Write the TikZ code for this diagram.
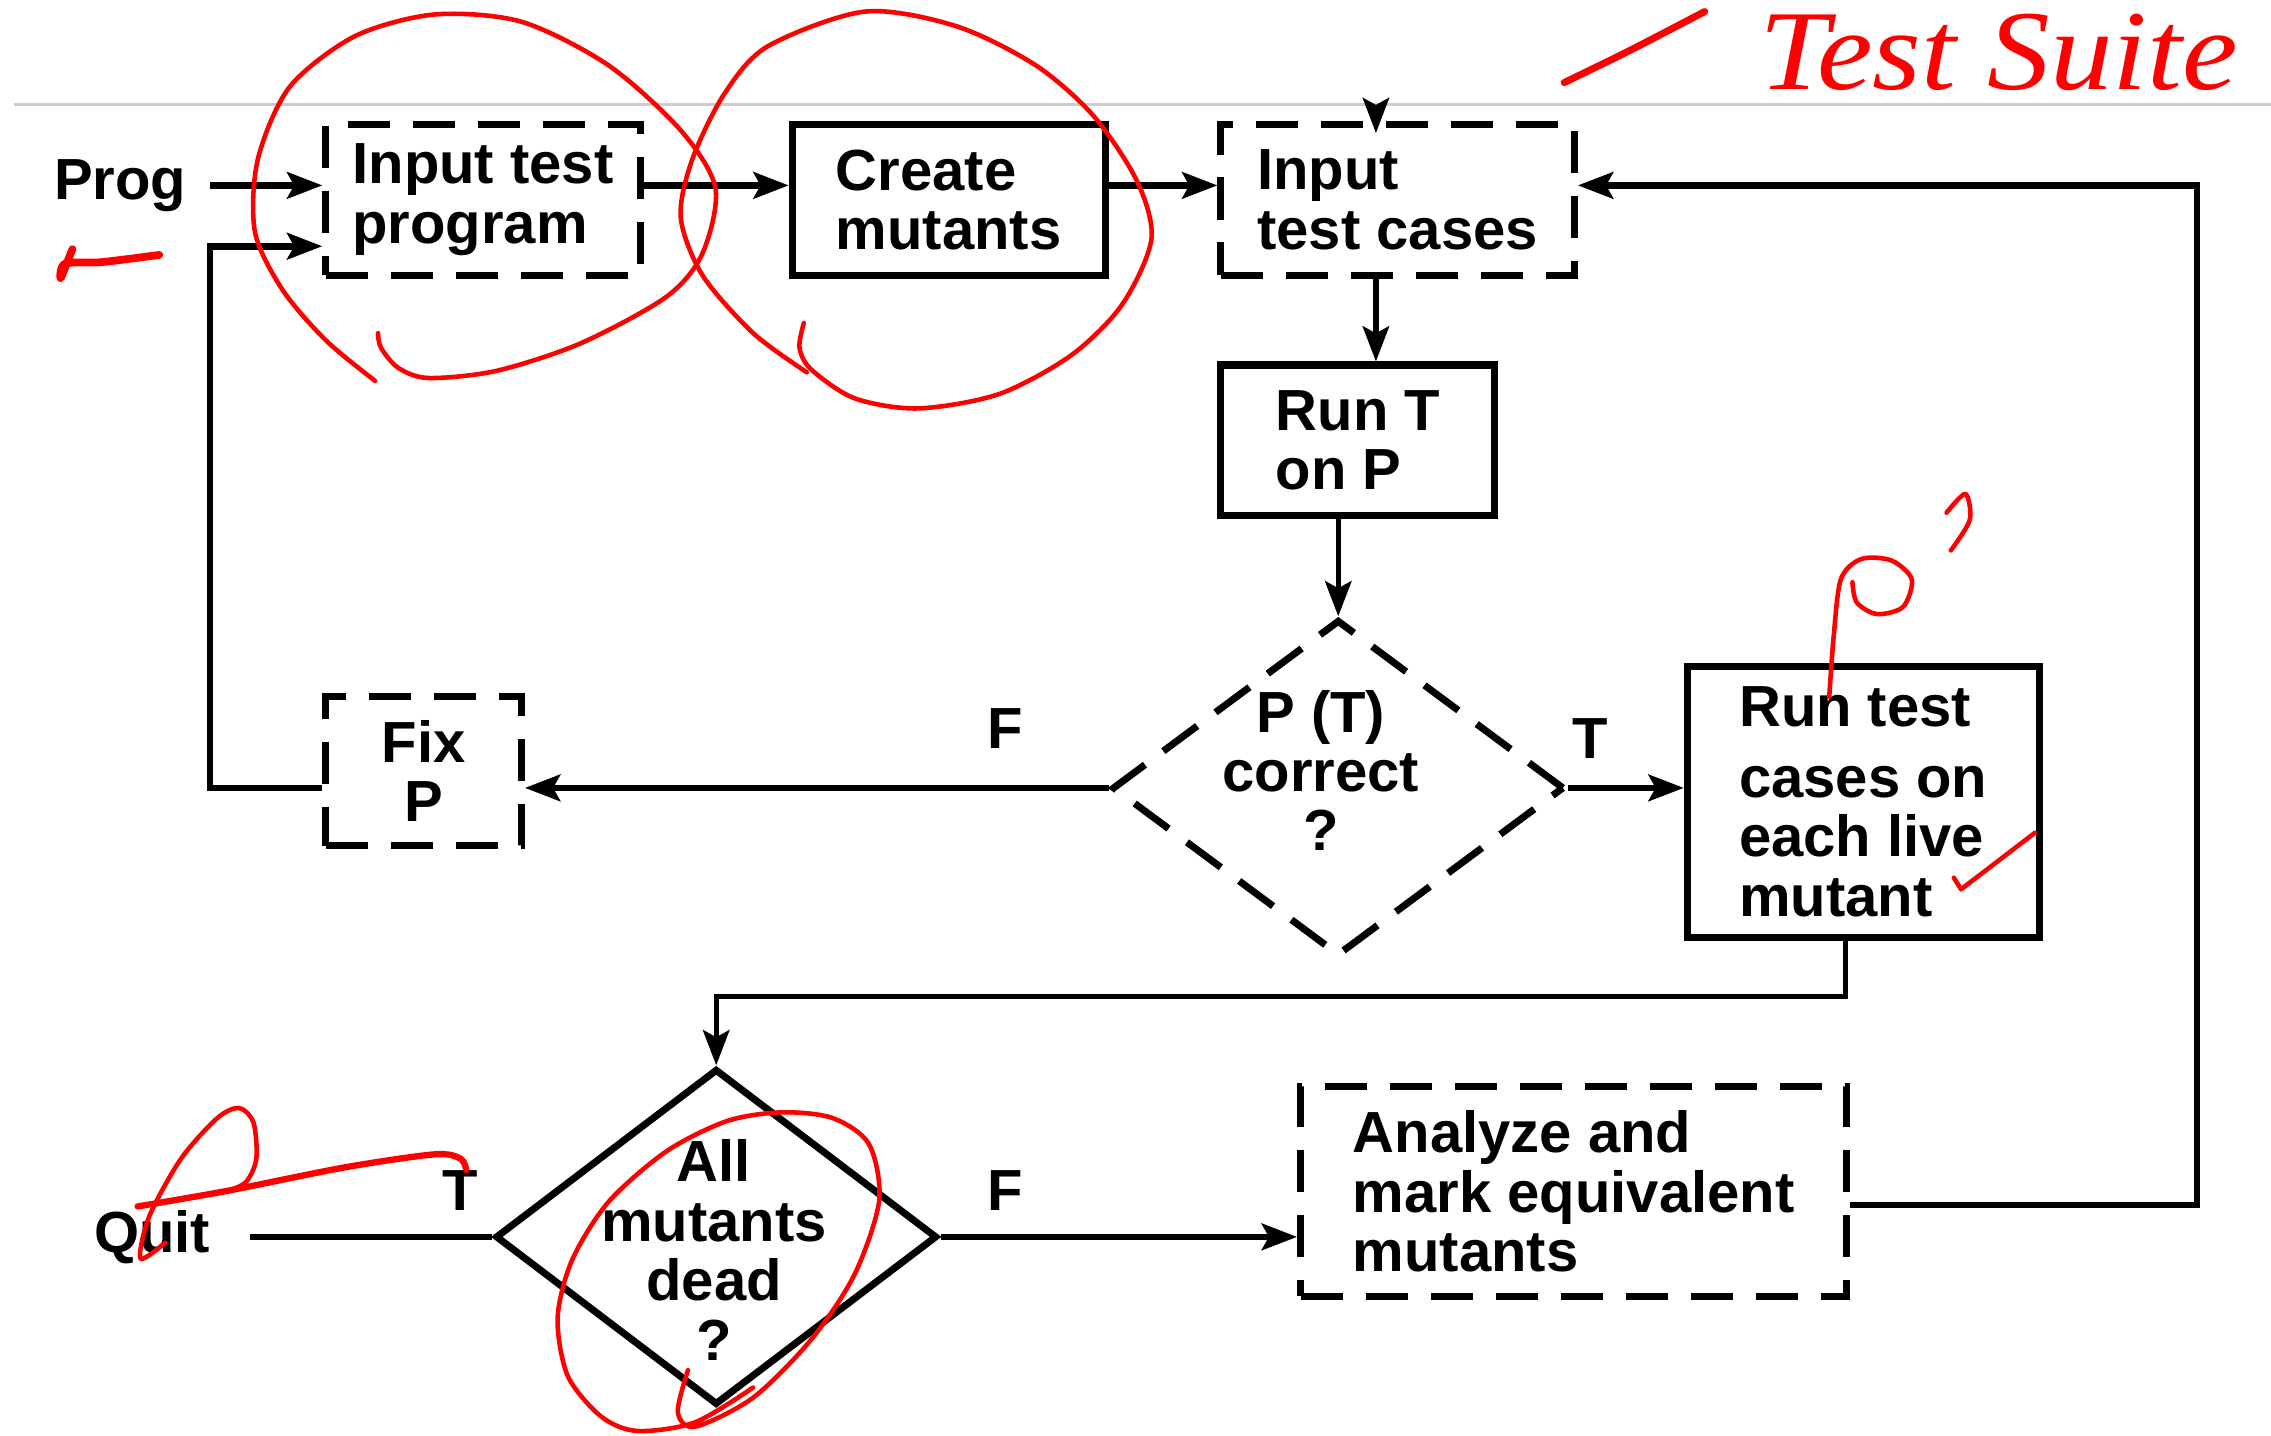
\documentclass[tikz,border=0pt]{standalone}
\usepackage{fontspec}
\setmainfont{Liberation Sans}
\newfontfamily\handfont{Liberation Serif}
\usetikzlibrary{arrows.meta,shapes.geometric}
\begin{document}
\begin{tikzpicture}[x=0.014483cm,y=-0.014483cm,
  font=\fontsize{16.5pt}{16.9pt}\selectfont\bfseries,
  box/.style={draw,line width=2pt,align=left,inner sep=0pt},
  dbox/.style={box,dash pattern=on 12pt off 6.5pt},
  arr/.style={line width=1.9pt,-{Stealth[length=10pt,width=7.5pt,inset=2pt]}},
  varr/.style={arr,line width=1.5pt},
  lbl/.style={inner sep=0pt},
  hand/.style={red,line width=1.3pt,line cap=round,line join=round}]
\useasboundingbox (0,0) rectangle (1568,991);

% page rule
\draw[gray!40,line width=0.8pt] (10,72) -- (1568,72);

% boxes
\node[dbox,minimum width=3.143cm,minimum height=1.506cm] (itp) at (333.5,138) {Input test\\program};
\node[box,minimum width=3.128cm,minimum height=1.506cm] (cm) at (655,138) {Create\\mutants};
\node[dbox,minimum width=3.534cm,minimum height=1.506cm] (itc) at (965,138) {Input\\test cases};
\node[box,minimum width=2.737cm,minimum height=1.506cm] (runt) at (937.5,304) {Run T\\on P};
\node[draw,diamond,line width=2pt,dash pattern=on 12pt off 6.5pt,minimum width=4.519cm,minimum height=3.360cm,inner sep=0pt] (d1) at (924,544) {};
\node[lbl,align=center] (d1t) at (912,532) {P (T)\\correct\\?};
\node[box,minimum width=3.519cm,minimum height=2.708cm] (rtc) at (1286.5,553.5) {Run test\\[3.3pt]cases on\\each live\\mutant};
\node[dbox,align=center,minimum width=1.955cm,minimum height=1.492cm] (fix) at (292.5,532.5) {Fix\\P};
\node[draw,diamond,line width=2pt,minimum width=4.417cm,minimum height=3.360cm,inner sep=0pt] (d2) at (494.5,854) {};
\node[lbl,align=center] (d2t) at (493,863) {All\\mutants\\dead\\?};
\node[dbox,minimum width=5.460cm,minimum height=2.100cm] (ana) at (1086.5,822.5) {Analyze and\\mark equivalent\\mutants};
\node[lbl] (prog) at (83,128) {Prog};
\node[lbl] (quit) at (105,854) {Quit};

% edge labels
\node[lbl] (lf1) at (694,503) {F};
\node[lbl] (lt1) at (1098,510) {T};
\node[lbl] (lt2) at (318,822) {T};
\node[lbl] (lf2) at (694,822) {F};

% connectors
\coordinate (topin) at (950,73);
\draw[arr] ([xshift=0.235cm]prog.east) -- (prog -| itp.west);
\draw[arr] (itp.east |- 0,128) -- (cm.west |- 0,128);
\draw[arr] (cm.east |- 0,128) -- (itc.west |- 0,128);
\draw[arr,line width=1.3pt,shorten >=-0.12cm] (topin) -- (topin |- itc.north);
\draw[varr] (itc.south -| topin) -- (runt.north -| topin);
\draw[varr] (runt.south -| d1.north) -- (d1.north);
\draw[arr] (d1.west) -- (d1.west -| fix.east);
\draw[arr] (d1.west -| fix.west) -- (145,544) -- (145,170) -- (itp.west |- 0,170);
\draw[arr] (d1.east) -- (d1.east -| rtc.west);
\draw[varr] (rtc.south -| 1274,0) -- (1274,688) -| (d2.north);
\draw[line width=1.9pt] (d2.west) -- ([xshift=0.39cm]quit.east);
\draw[arr] (d2.east) -- (d2.east -| ana.west);
\draw[arr] (ana.east |- 0,832) -- (1517,832) -- (1517,128) -- (itc.east |- 0,128);

% red hand annotations
\draw[hand] plot[smooth] coordinates {(259,263) (225,235) (195,200) (176,160) (178,110) (200,60) (245,25) (300,10) (360,15) (420,45) (470,90) (494,130) (485,175) (460,205) (401,237) (343,256) (296,261) (275,254) (263,240) (261,230)};
\draw[hand] plot[smooth] coordinates {(557,257) (520,230) (485,190) (470,150) (478,110) (500,65) (530,32) (597,8) (660,18) (715,45) (755,80) (785,125) (795,165) (775,210) (740,245) (690,272) (634,282) (590,275) (560,255) (552,240) (555,223)};
\draw[hand] plot[smooth] coordinates {(475,946) (468,975) (480,985) (520,965) (560,925) (590,880) (607,829) (600,790) (575,772) (540,768) (502,774) (460,795) (420,830) (395,870) (385,910) (392,950) (415,978) (440,988) (480,982) (520,958)};
\draw[hand] plot[smooth] coordinates {(114,858) (97,869) (103,840) (125,800) (150,772) (165,765) (175,775) (177,800) (170,816) (158,822)};
\draw[hand,line width=1.8pt] plot[smooth] coordinates {(95,833) (158,822) (238,806) (300,797) (318,800) (322,808)};
\draw[hand,line width=2.2pt] plot[smooth] coordinates {(50,172) (42,192) (45,182) (70,181) (110,176)};
\draw[hand] plot[smooth] coordinates {(1263,481) (1266,440) (1271,400) (1285,386) (1306,387) (1320,400) (1314,419) (1296,424) (1282,416) (1279,402)};
\draw[hand] plot[smooth] coordinates {(1344,354) (1357,341) (1360,359) (1347,380)};
\draw[hand] (1349,606) -- (1354,614) -- (1405,575);
\draw[hand,line width=2pt] plot[smooth] coordinates {(1080,57) (1125,35) (1177,8)};
\node[red,anchor=base west,inner sep=0pt,font=\handfont\itshape\fontsize{27pt}{27pt}\selectfont] (ts) at (1214,62) {\scalebox{1.32}[1.2]{Test Suite}};
\end{tikzpicture}
\end{document}
